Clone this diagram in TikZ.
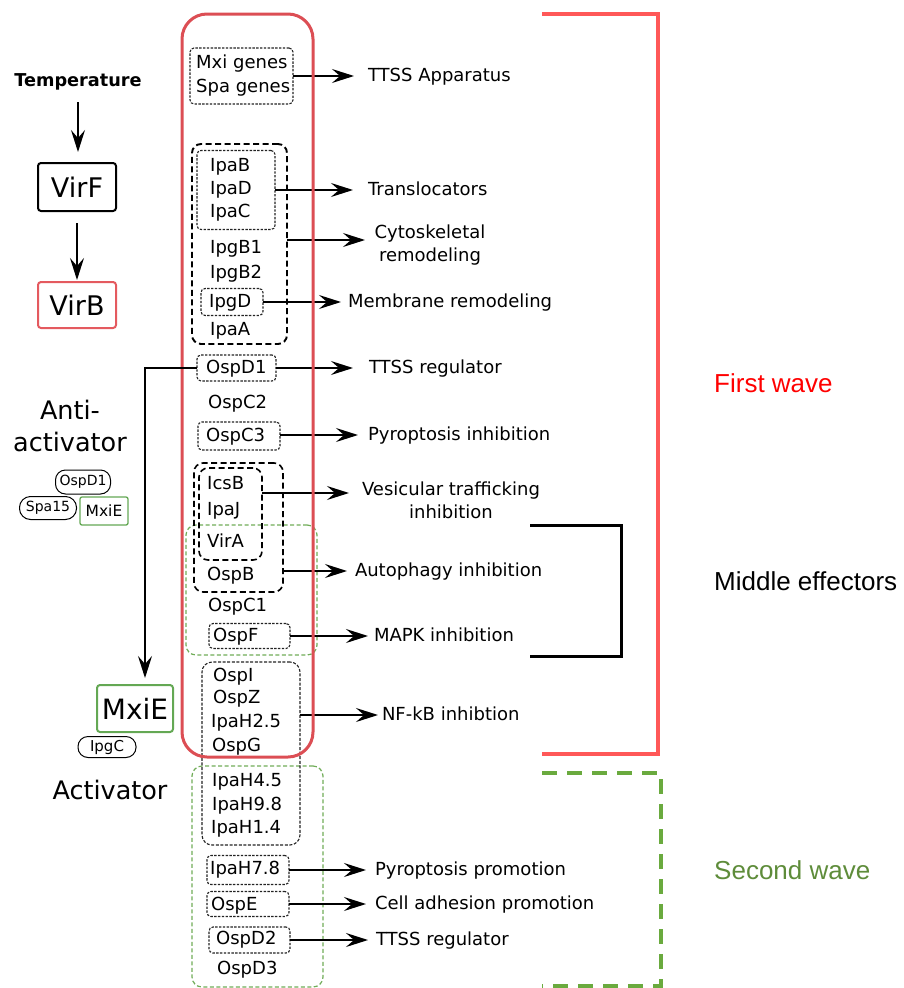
\documentclass[tikz,border=0pt]{standalone}
\usepackage{fontspec}
\setmainfont{DejaVu Sans}
\newfontfamily\arialf{Liberation Sans}
\usetikzlibrary{arrows.meta,shapes.geometric}
\definecolor{colred}{RGB}{220,78,84}
\definecolor{brred}{RGB}{255,88,88}
\definecolor{grbox}{RGB}{112,172,88}
\definecolor{grbr}{RGB}{106,170,62}
\definecolor{grtext}{RGB}{94,140,58}
\definecolor{dotc}{RGB}{35,35,35}
\definecolor{boxred}{RGB}{228,90,95}
\definecolor{boxgr}{RGB}{100,168,84}
\begin{document}
\begin{tikzpicture}[x=1pt,y=-1pt]
\tikzset{
  arr/.style={line width=1.4pt,-{Stealth[length=22pt,width=14pt,inset=8pt]}},
  dbox/.style={draw=dotc,line width=1.1pt,dash pattern=on 2.4pt off 1.4pt,rounded corners=4pt,inner sep=0pt,outer sep=0pt},
  nbox/.style={draw=dotc,line width=1.1pt,dash pattern=on 3pt off 1.6pt,rounded corners=10pt,inner sep=0pt,outer sep=0pt},
  tbox/.style={draw=black,line width=1.9pt,dash pattern=on 6pt off 3.5pt,rounded corners=9pt,inner sep=0pt,outer sep=0pt},
  gbox/.style={draw=grbox,line width=1.2pt,dash pattern=on 4pt off 2.5pt,rounded corners=10pt,inner sep=0pt,outer sep=0pt},
  ctext/.style={font=\fontsize{18}{24}\selectfont,anchor=base west,inner sep=0pt},
  lbl/.style={font=\fontsize{18}{24}\selectfont,anchor=west,inner ysep=0pt,outer sep=0pt,text height=14pt,text depth=3pt},
  mlbl/.style={font=\fontsize{18}{23.5}\selectfont,align=center,inner sep=0pt},
  bigtxt/.style={font=\fontsize{25.5}{32}\selectfont,align=center,inner sep=0pt},
  keybox/.style={line width=2pt,rounded corners=3pt,inner sep=0pt,outer sep=0pt,font=\fontsize{27}{30}\selectfont},
  pill/.style={draw,line width=1pt,rounded corners=10pt,inner sep=0pt,outer sep=0pt},
  wave/.style={font=\arialf\fontsize{26}{30}\selectfont,anchor=base west,inner sep=0pt}
}
\useasboundingbox (0,0) rectangle (903,988);

% green boxes
\node[gbox,minimum width=131pt,minimum height=130pt] (gmid) at (251.5,590) {};
\node[gbox,minimum width=131pt,minimum height=221pt] (gsec) at (257.5,876.5) {};

% black boxes
\node[dbox,minimum width=103pt,minimum height=56pt] (mxi) at (241.5,76) {};
\node[tbox,minimum width=95pt,minimum height=200pt] (gB) at (239.5,244) {};
\node[dbox,minimum width=78pt,minimum height=79pt] (ipab) at (236,190) {};
\node[dbox,minimum width=62pt,minimum height=27pt] (ipgd) at (232,302) {};
\node[dbox,minimum width=79pt,minimum height=26pt] (ospd1) at (236.5,368) {};
\node[dbox,minimum width=82pt,minimum height=28pt] (ospc3) at (239,436) {};
\node[tbox,line width=1.6pt,minimum width=89pt,minimum height=129pt] (gI) at (238.5,527.5) {};
\node[tbox,line width=1.6pt,minimum width=63pt,minimum height=92pt] (icsb) at (230.5,514) {};
\node[dbox,minimum width=81pt,minimum height=25pt] (ospf) at (249.5,636) {};
\node[nbox,minimum width=98pt,minimum height=183pt] (nf) at (251,753.5) {};
\node[dbox,minimum width=82pt,minimum height=29pt] (ipah78) at (248,870) {};
\node[dbox,minimum width=82pt,minimum height=25pt] (ospe) at (248,904) {};
\node[dbox,minimum width=81pt,minimum height=26pt] (ospd2) at (249.5,940) {};

% column texts
\node[ctext] (c1) at (196,68) {Mxi genes};
\node[ctext] (c2) at (196,92) {Spa genes};
\node[ctext] (c3) at (210,171) {IpaB};
\node[ctext] (c4) at (210,194) {IpaD};
\node[ctext] (c5) at (210,217) {IpaC};
\node[ctext] (c6) at (210,253) {IpgB1};
\node[ctext] (c7) at (210,278) {IpgB2};
\node[ctext] (c8) at (209,307) {IpgD};
\node[ctext] (c9) at (210,335) {IpaA};
\node[ctext] (c10) at (206,373) {OspD1};
\node[ctext] (c11) at (208,408) {OspC2};
\node[ctext] (c12) at (206,441) {OspC3};
\node[ctext] (c13) at (207,489) {IcsB};
\node[ctext] (c14) at (207,515) {IpaJ};
\node[ctext] (c15) at (207,547) {VirA};
\node[ctext] (c16) at (207,580) {OspB};
\node[ctext] (c17) at (208,611) {OspC1};
\node[ctext] (c18) at (213,641) {OspF};
\node[ctext] (c19) at (213,681) {OspI};
\node[ctext] (c20) at (213,703) {OspZ};
\node[ctext] (c21) at (211,727) {IpaH2.5};
\node[ctext] (c22) at (212,751) {OspG};
\node[ctext] (c23) at (212,786) {IpaH4.5};
\node[ctext] (c24) at (212,810) {IpaH9.8};
\node[ctext] (c25) at (211,833) {IpaH1.4};
\node[ctext] (c26) at (210,874) {IpaH7.8};
\node[ctext] (c27) at (211,910) {OspE};
\node[ctext] (c28) at (216,944) {OspD2};
\node[ctext] (c29) at (217,974) {OspD3};

% function labels
\node[lbl,inner xsep=14pt] (la1) at (354,76) {TTSS Apparatus};
\node[lbl,inner xsep=15pt] (la2) at (353,190) {Translocators};
\coordinate (cyT) at (365,240);
\node[mlbl] (la3) at (430,245) {Cytoskeletal\\remodeling};
\node[lbl,inner xsep=7pt] (la4) at (341,302) {Membrane remodeling};
\node[lbl,inner xsep=16pt] (la5) at (353,368) {TTSS regulator};
\node[lbl,inner xsep=10pt] (la6) at (358,435) {Pyroptosis inhibition};
\coordinate (vesT) at (349,493);
\node[mlbl] (la7) at (451,500.5) {Vesicular trafficking\\inhibition};
\node[lbl,inner xsep=8pt] (la8) at (347,571) {Autophagy inhibition};
\node[lbl,inner xsep=6pt] (la9) at (368,636) {MAPK inhibition};
\node[lbl,inner xsep=4pt] (la10) at (378,715) {NF-kB inhibtion};
\node[lbl,inner xsep=9pt] (la11) at (366,870) {Pyroptosis promotion};
\node[lbl,inner xsep=9pt] (la12) at (366,904) {Cell adhesion promotion};
\node[lbl,inner xsep=8pt] (la13) at (368,940) {TTSS regulator};

% arrows
\draw[arr] (mxi.east) -- (la1.west);
\draw[arr] (ipab.east) -- (la2.west);
\draw[arr] (gB.east |- cyT) -- (cyT);
\draw[arr] (ipgd.east) -- (la4.west);
\draw[arr] (ospd1.east) -- (la5.west);
\draw[arr] (ospc3.east |- la6.west) -- (la6.west);
\draw[arr] (icsb.east |- vesT) -- (vesT);
\draw[arr] (gI.east |- la8.west) -- (la8.west);
\draw[arr] (ospf.east) -- (la9.west);
\draw[arr] (nf.east |- la10.west) -- (la10.west);
\draw[arr] (ipah78.east) -- (la11.west);
\draw[arr] (ospe.east) -- (la12.west);
\draw[arr] (ospd2.east) -- (la13.west);

% main red column (drawn over the connectors)
\node[draw=colred,line width=3pt,rounded corners=25pt,minimum width=131pt,minimum height=743pt,inner sep=0pt,outer sep=0pt] (col) at (247.5,385.5) {};

% left side
\node[font=\fontsize{17.7}{20}\selectfont\bfseries,text height=13pt,text depth=4pt,inner sep=0pt,outer sep=0pt] (temp) at (78,82) {Temperature};
\node[keybox,draw=black,minimum width=78pt,minimum height=48pt] (virf) at (77,187) {VirF};
\node[keybox,draw=boxred,minimum width=78pt,minimum height=46pt] (virb) at (77,305) {VirB};
\draw[arr,shorten <=11.5pt,shorten >=11pt] (temp.south) -- (temp.south |- virf.north);
\draw[arr,shorten <=12pt,shorten >=2pt] (virf.south) -- (virb.north);

\node[bigtxt] (anti) at (70,426) {Anti-\\activator};
\node[pill,minimum width=55pt,minimum height=24pt,font=\fontsize{14}{16}\selectfont] (eo) at (83,482) {OspD1};
\node[pill,minimum width=57pt,minimum height=23pt,rounded corners=11pt,font=\fontsize{14}{16}\selectfont] (es) at (48,508) {Spa15};
\node[draw=boxgr,line width=1.3pt,rounded corners=2pt,inner sep=0pt,minimum width=48pt,minimum height=28pt,font=\fontsize{15.5}{17}\selectfont] (em) at (104,511) {MxiE};

\node[keybox,draw=boxgr,minimum width=76pt,minimum height=47pt,font=\fontsize{28}{30}\selectfont] (mxie) at (135,708.5) {MxiE};
\node[pill,minimum width=58pt,minimum height=21pt,rounded corners=10pt,font=\fontsize{15}{17}\selectfont] (ipgc) at (107,747) {IpgC};
\node[bigtxt] (act) at (110,790) {Activator};

\coordinate (turn) at (145,368);
\draw[arr,shorten >=7pt] (ospd1.west) -- (turn) -- (turn |- mxie.north);

% brackets
\draw[brred,line width=3.2pt] (542,14) -- (658,14) -- (658,754) -- (542,754);
\draw[black,line width=3pt] (530,525) -- (621,525) -- (621,656) -- (530,656);
\draw[grbr,line width=3.5pt,dash pattern=on 15pt off 10pt] (542,773) -- (661,773) -- (661,986) -- (542,986);

\node[wave,text=red] (fw) at (714,392) {First wave};
\node[wave,text=black] (me) at (714,590) {Middle effectors};
\node[wave,text=grtext] (sw) at (714,879) {Second wave};
\end{tikzpicture}
\end{document}
